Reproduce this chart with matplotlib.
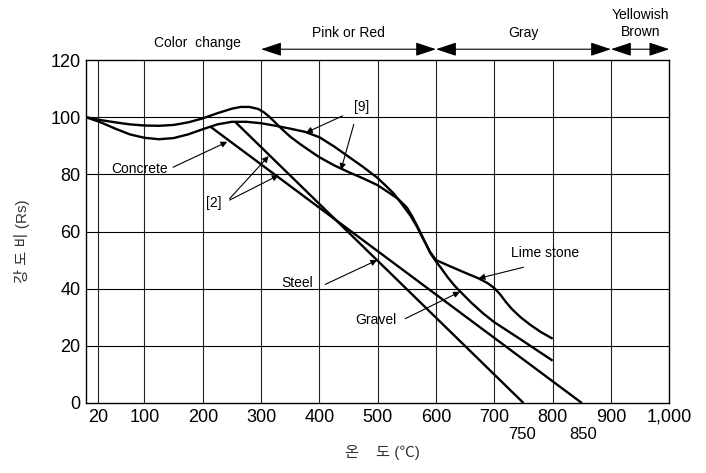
import numpy as np
import matplotlib
matplotlib.use("Agg")
import matplotlib.pyplot as plt

plt.rcParams.update({
    "font.family": ["Liberation Sans", "Noto Sans CJK KR", "DejaVu Sans"],
    "font.size": 13,
    "axes.linewidth": 1.0,
})

# ==========================================================
# Data
# ==========================================================

# upper concrete curve -> gravel branch
gravel_x = [0, 25, 50, 75, 100, 125, 150, 175, 200, 225, 250, 265, 280, 295,
            305, 315, 325, 335, 350, 367, 384, 400, 425, 450, 475, 500, 520,
            535, 550, 560, 570, 580, 590, 600, 608, 620, 632, 642, 660, 680,
            699, 750, 800]
gravel_y = [100, 99, 98.2, 97.5, 97.1, 97, 97.3, 98.2, 99.6, 101.4, 103, 103.6,
            103.6, 102.9, 101.7, 100, 98, 96, 93.2, 90.6, 88.2, 86, 83.2, 80.8,
            78.6, 76.2, 73.5, 71.4, 68.4, 65, 61, 56.8, 52.5, 49.5, 47.4,
            44, 41, 38.9, 35.2, 31.5, 28.4, 21.6, 14.8]

# lower concrete curve -> lime stone branch
lime_x = [0, 25, 50, 75, 100, 125, 150, 175, 200, 225, 250, 275, 300, 325, 350,
          375, 400, 425, 450, 475, 500, 515, 527, 540, 556, 567, 579, 590, 600,
          620, 645, 673, 688, 700, 710, 720, 730, 745, 762, 780, 800]
lime_y = [100, 98.2, 96, 94, 92.8, 92.3, 92.7, 94, 95.8, 97.5, 98.4, 98.4,
          97.9, 97, 96, 94.9, 93, 89.8, 86.2, 82.6, 78.7, 75.8, 73.4, 70,
          65.6, 61.8, 57, 52.8, 50, 48.2, 46, 43.6, 42, 40.2, 38, 35.3, 32.9,
          30, 27.3, 24.8, 22.5]

# straight lines ([2])
steel_x = [256, 750]
steel_y = [98.3, 0]
line2_x = [213, 850]
line2_y = [96.7, 0]

xticks = [20, 100, 200, 300, 400, 500, 600, 700, 800, 900, 1000]
xtick_labels = ["20", "100", "200", "300", "400", "500", "600", "700", "800",
                "900", "1,000"]
yticks = [0, 20, 40, 60, 80, 100, 120]

# colour bands on top: (start, end, label)
bands = [(300, 600, "Pink or Red"), (600, 900, "Gray"),
         (900, 1000, "Yellowish\nBrown")]

# ==========================================================
# Plot
# ==========================================================

fig = plt.figure(figsize=(7.06, 4.73), dpi=100)
ax = fig.add_axes([0.122, 0.148, 0.826, 0.725])

for x in xticks[:-1]:
    ax.axvline(x, color="#222222", lw=0.8, zorder=1)
for y in yticks[1:-1]:
    ax.axhline(y, color="black", lw=0.8, zorder=1)

for xs, ys in [(gravel_x, gravel_y), (lime_x, lime_y),
               (steel_x, steel_y), (line2_x, line2_y)]:
    ax.plot(xs, ys, color="black", lw=1.7, zorder=3,
            solid_joinstyle="round", solid_capstyle="butt")

ax.set_xlim(0, 1000)
ax.set_ylim(0, 120)
ax.set_xticks(xticks, xtick_labels)
ax.set_yticks(yticks)
ax.tick_params(length=0, pad=4, labelsize=13)

# ==========================================================
# Annotations
# ==========================================================

arr = dict(arrowstyle="-|>", lw=0.8, color="black", mutation_scale=9,
           shrinkA=0, shrinkB=0)
fs = 10

def pointer(text, txy, arrows, ha="center"):
    ax.text(txy[0], txy[1], text, fontsize=fs, ha=ha, va="center", zorder=4)
    for start, end in arrows:
        ax.annotate("", xy=end, xytext=start, arrowprops=arr, zorder=4)

pointer("Concrete", (92, 82), [((149, 82.5), (242, 91.4))])
pointer("[2]", (218, 70), [((246, 71.5), (313, 86.4)),
                             ((246, 71.0), (330, 79.7))])
pointer("[9]", (473, 103.5), [((440, 100.5), (377, 94.6)),
                               ((459, 97.5), (437, 81.6))])
pointer("Steel", (362, 42), [((410, 41.5), (499, 50))])
pointer("Gravel", (496, 29), [((547, 29.5), (641, 38.9))])
pointer("Lime stone", (787, 52.4), [((750, 47.5), (673, 43.6))])

# colour change bands above the axes
ax.text(191, 125.9, "Color  change", fontsize=fs, ha="center", va="center")
for x0, x1, label in bands:
    ax.annotate("", xy=(x1, 123.8), xytext=(x0, 123.8), annotation_clip=False,
                arrowprops=dict(arrowstyle="<|-|>,head_length=0.9,head_width=0.3",
                                lw=0.8, color="black", shrinkA=0, shrinkB=0,
                                mutation_scale=14))
    ax.text((x0 + x1) / 2, 129.5 if "\n" not in label else 132.7, label,
            fontsize=fs, ha="center", va="center", linespacing=1.3,
            clip_on=False)

# extra zero-crossing labels
ax.text(748, -11, "750", fontsize=12, ha="center", va="center", clip_on=False)
ax.text(853, -11, "850", fontsize=12, ha="center", va="center", clip_on=False)

fig.text(0.031, 0.49, "강 도 비 (Rs)", rotation=90, fontsize=11, ha="center",
         va="center", color="#333333")
fig.text(0.541, 0.044, "온    도 (℃)", fontsize=11, ha="center", va="center",
         color="#333333")

fig.savefig("out.png", dpi=100)
